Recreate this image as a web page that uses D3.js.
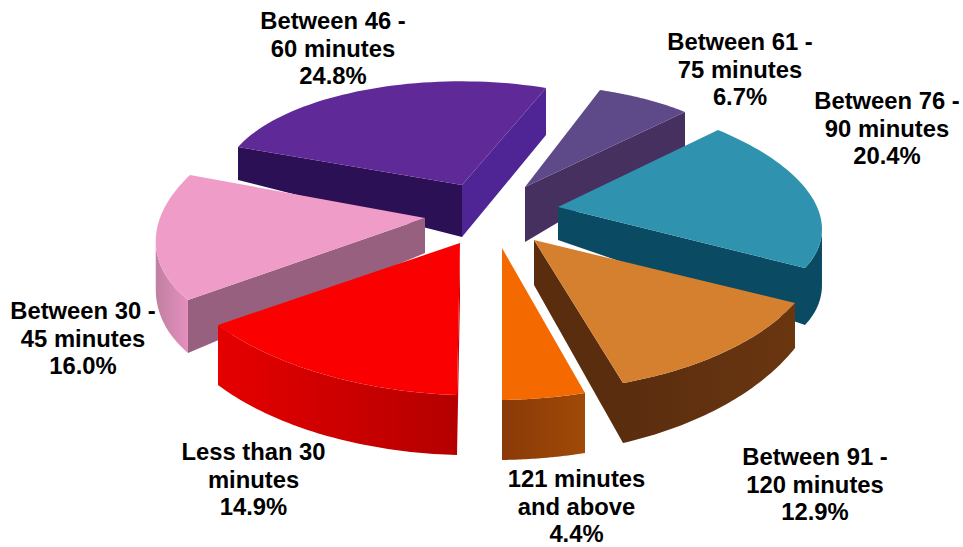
<!DOCTYPE html>
<html><head><meta charset="utf-8">
<script src="https://cdn.jsdelivr.net/npm/d3@7"></script>
<style>html,body{margin:0;background:#fff}svg{display:block}text{font-family:"Liberation Sans",Arial,sans-serif;font-weight:bold;font-size:23.8px;fill:#000;text-anchor:middle}</style>
</head><body><svg id="c" width="963" height="547"></svg>
<script>
const categories=["Between 61 - 75 minutes","Between 76 - 90 minutes","Between 91 - 120 minutes","121 minutes and above","Less than 30 minutes","Between 30 - 45 minutes","Between 46 - 60 minutes"];
const values=[6.7,20.4,12.9,4.4,14.9,16.0,24.8];
const labelLines=[["Between 61 -","75 minutes","6.7%"],["Between 76 -","90 minutes","20.4%"],["Between 91 -","120 minutes","12.9%"],["121 minutes","and above","4.4%"],["Less than 30","minutes","14.9%"],["Between 30 -","45 minutes","16.0%"],["Between 46 -","60 minutes","24.8%"]];
// styling
const topColors=["#5e4a88","#2f93b0","#d5802f","#f56a00","#fb0000","#f09cc8","#5f2a98"];
const rimFrom=["#46305f","#0b4a63","#6a3610","#a04a08","#b40000","#e58fbe","#2c1056"];
const rimTo=["#46305f","#0b4a63","#5a2d0f","#8a3a08","#e60000","#c080a0","#2c1056"];
const cutStart=["#46305f","#0b4a63","#5a2d0f","#8a3a08","#c80000","#97607f","#2c1056"];
const cutEnd=["#46305f","#0b4a63","#5a2d0f","#8a3a08","#c80000","#97607f","#4f2595"];
// placement of each exploded wedge on the page: apex, first rim corner, last rim corner
const apexPos=[[525,187],[558,207],[534,240],[502,248],[460,243],[425,218],[462,185]];
const startPos=[[600,90],[718,130],[795,303],[585,393],[457,395],[188,300],[238,147]];
const endPos=[[685,112],[805,268],[623,383],[502,400],[218,325],[190,175],[546,88]];
const depthApex=[55,33,45,55,55,35,52];
const depthStart=[40,40,45,60,60,53,33];
const depthEnd=[35,57,60,60,60,40,47];
const paintOrder=[6,0,1,2,5,4,3];
const labelPos=[[740,50],[887,109],[815,465],[576.5,487],[253.5,460],[83,319],[333,29]];
const lineGap=27.6;

const svg=d3.select("#c");
const defs=svg.append("defs");
const pie=d3.pie().sort(null)(values);
const line=d3.line();
function mapper(i){
 const span=pie[i].endAngle-pie[i].startAngle,P=apexPos[i],A=startPos[i],B=endPos[i];
 return t=>{const b=Math.sin(t)/Math.sin(span),a=Math.cos(t)-b*Math.cos(span);
  const x=P[0]+a*(A[0]-P[0])+b*(B[0]-P[0]),y=P[1]+a*(A[1]-P[1])+b*(B[1]-P[1]);
  const dp=depthApex[i]+a*(depthStart[i]-depthApex[i])+b*(depthEnd[i]-depthApex[i]);
  return {p:[x,y],q:[x,y+dp]};};
}
function quad(g,e0,e1,col){g.append("path").attr("d",line([e0.p,e1.p,e1.q,e0.q])+"Z").attr("fill",col);}
paintOrder.forEach(i=>{
 const g=svg.append("g"),f=mapper(i),span=pie[i].endAngle-pie[i].startAngle,n=48;
 const rim=d3.range(n+1).map(k=>f(span*k/n));
 const apex={p:apexPos[i],q:[apexPos[i][0],apexPos[i][1]+depthApex[i]]};
 if(rim[0].p[0]<apex.p[0]) quad(g,apex,rim[0],cutStart[i]);
 if(apex.p[0]<rim[n].p[0]) quad(g,rim[n],apex,cutEnd[i]);
 const vis=d3.range(n).filter(k=>rim[k+1].p[0]<rim[k].p[0]);
 if(vis.length){
  const run=rim.slice(vis[0],vis[vis.length-1]+2);
  const id="rim"+i;
  const lg=defs.append("linearGradient").attr("id",id).attr("gradientUnits","userSpaceOnUse")
   .attr("x1",run[0].p[0]).attr("y1",0).attr("x2",run[run.length-1].p[0]).attr("y2",0);
  lg.append("stop").attr("offset",0).attr("stop-color",rimFrom[i]);
  lg.append("stop").attr("offset",1).attr("stop-color",rimTo[i]);
  g.append("path").attr("d",line(run.map(r=>r.p).concat(run.map(r=>r.q).reverse()))+"Z").attr("fill",`url(#${id})`);
 }
 g.append("path").attr("d",line([apex.p].concat(rim.map(r=>r.p)))+"Z").attr("fill",topColors[i]);
});
labelLines.forEach((ls,i)=>{const t=svg.append("text").attr("x",labelPos[i][0]).attr("y",labelPos[i][1]);
 ls.forEach((l,j)=>t.append("tspan").attr("x",labelPos[i][0]).attr("dy",j?lineGap:0).text(l));});
</script></body></html>
